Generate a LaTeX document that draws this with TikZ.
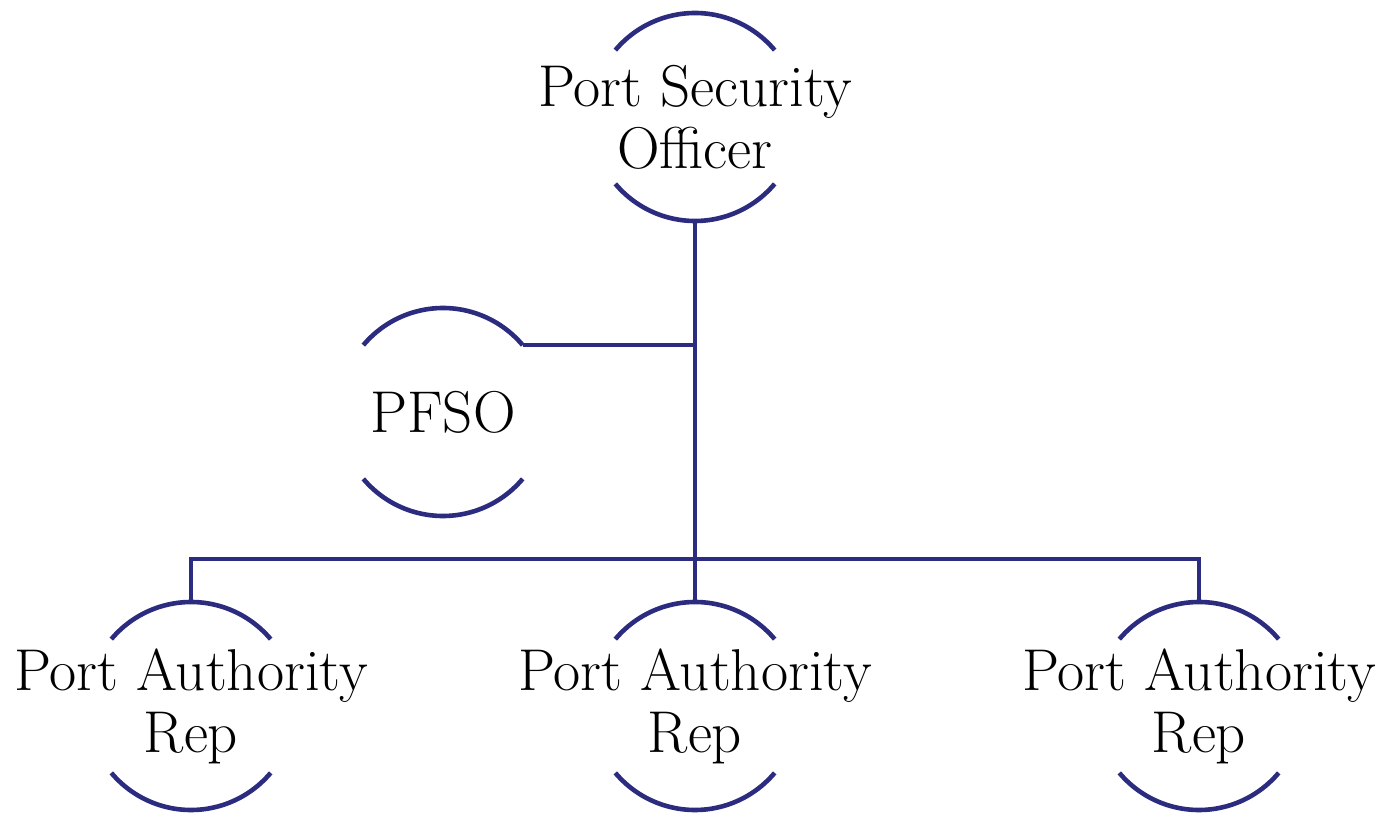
\documentclass[tikz,border=0pt]{standalone}
\usetikzlibrary{calc}
\definecolor{navy}{RGB}{43,43,127}
\tikzset{
  role/.style={align=center, inner sep=0pt, font=\fontsize{29.5}{31}\selectfont},
  ring/.style={draw=navy, line width=2.3pt},
  link/.style={draw=navy, line width=2.3pt},
}
% open circle: an upper and a lower arc round a node's centre
\newcommand{\openring}[1]{%
  \draw[ring] (#1.center) ++(40:52pt) arc[start angle=40,end angle=140,radius=52pt]
              (#1.center) ++(220:52pt) arc[start angle=220,end angle=320,radius=52pt];}
\begin{document}
\begin{tikzpicture}[x=0.5pt,y=0.5pt]
\useasboundingbox (0,0) rectangle (1391,814);

\node[role] (pso)  at (695,697) {Port Security\\Officer};
\node[role] (pfso) at (443,402) {PFSO};
\node[role] (repa) at (191,108) {Port Authority\\Rep};
\node[role] (repb) at (695,108) {Port Authority\\Rep};
\node[role] (repc) at (1199,108) {Port Authority\\Rep};

\foreach \n in {pso,pfso,repa,repb,repc} {\openring{\n}}

% attachment points on the rings
\coordinate (pso-s)  at ($(pso.center)+(0,-52pt)$);
\coordinate (pfso-e) at ($(pfso.center)+(40:52pt)$);
\coordinate (repa-n) at ($(repa.center)+(0,52pt)$);
\coordinate (repb-n) at ($(repb.center)+(0,52pt)$);
\coordinate (repc-n) at ($(repc.center)+(0,52pt)$);
\coordinate (bus)    at (pso-s |- 0,255);
\coordinate (tee)    at (pso-s |- pfso-e);

% trunk, side branch and bus
\draw[link] (pso-s) -- (bus);
\draw[link] (pfso-e) -- (tee);
\draw[link] (repa-n) -- (repa-n |- bus) -- (repc-n |- bus) -- (repc-n);
\draw[link] (bus) -- (repb-n);
\end{tikzpicture}
\end{document}
